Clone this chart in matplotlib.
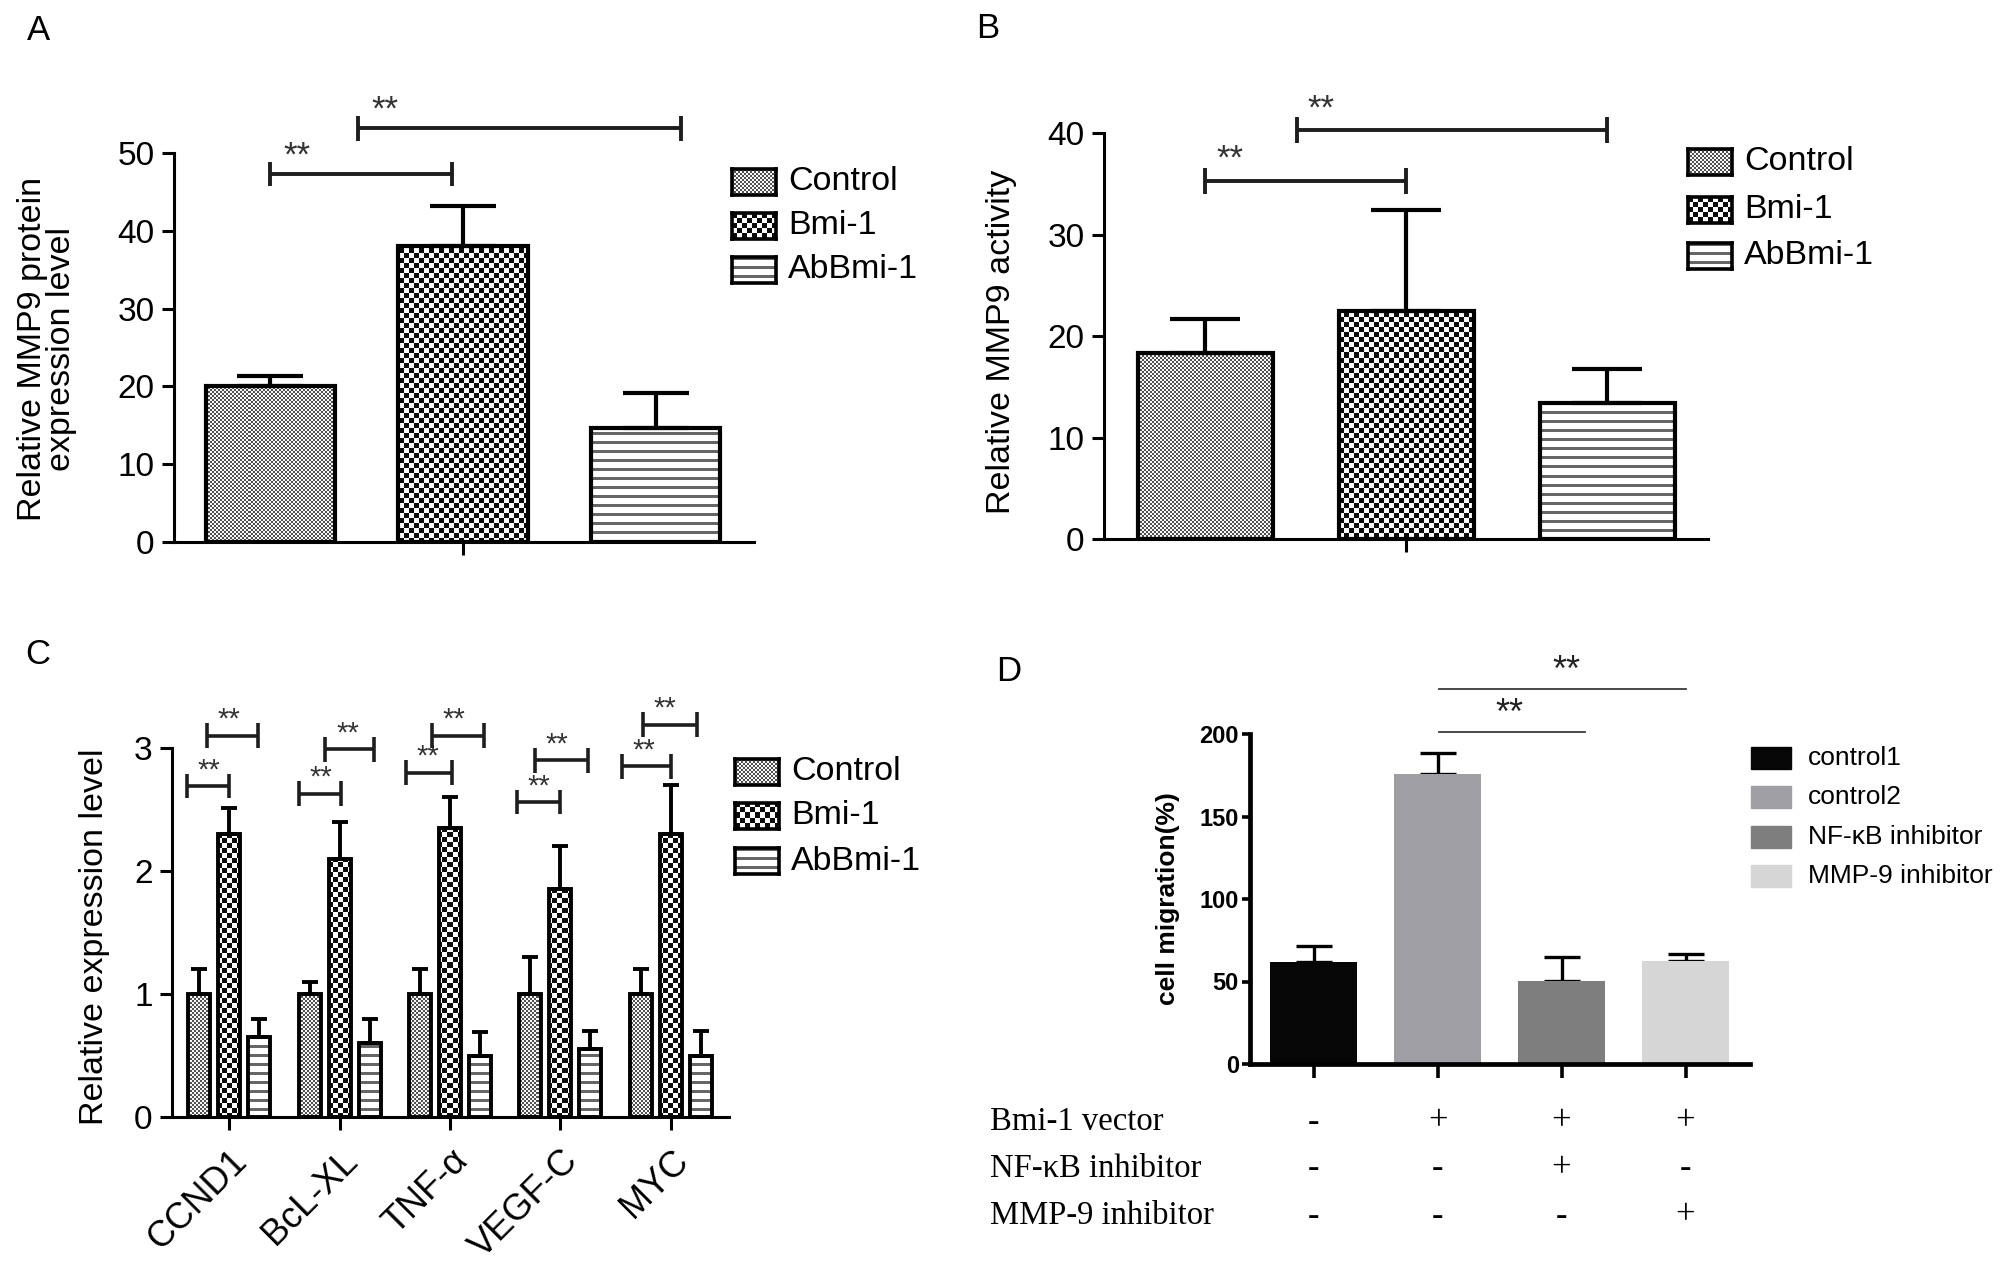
import numpy as np
import matplotlib
matplotlib.use('Agg')
import matplotlib.pyplot as plt
from matplotlib.transforms import blended_transform_factory

plt.rcParams['font.family'] = ['Liberation Sans', 'DejaVu Sans']

# ---- data ----
ab_groups = ['Control', 'Bmi-1', 'AbBmi-1']
ab_kinds = ['fine', 'coarse', 'hline']

a_means = [20.0, 38.0, 14.6]
a_errs = [1.3, 5.2, 4.6]
a_sig = [(0.0, 0.945, 47.3), (0.453, 2.133, 53.2)]

b_means = [18.3, 22.5, 13.4]
b_errs = [3.4, 9.9, 3.35]
b_sig = [(0.0, 1.0, 35.3), (0.455, 2.0, 40.3)]

c_genes = ['CCND1', 'BcL-XL', 'TNF-α', 'VEGF-C', 'MYC']
c_control = [1.0, 1.0, 1.0, 1.0, 1.0]
c_control_err = [0.2, 0.1, 0.2, 0.3, 0.2]
c_bmi = [2.30, 2.10, 2.35, 1.85, 2.30]
c_bmi_err = [0.21, 0.30, 0.25, 0.35, 0.40]
c_ab = [0.65, 0.60, 0.50, 0.55, 0.50]
c_ab_err = [0.15, 0.20, 0.19, 0.15, 0.20]
# (left, right, height) relative to group centre
c_sig1 = [(-0.387, 0.0, 2.69), (-0.366, 0.01, 2.63), (-0.40, 0.018, 2.80), (-0.394, 0.0, 2.56), (-0.441, 0.0, 2.85)]
c_sig2 = [(-0.204, 0.258, 3.10), (-0.129, 0.308, 2.99), (-0.161, 0.309, 3.10), (-0.233, 0.251, 2.90), (-0.251, 0.244, 3.19)]

d_groups = ['control1', 'control2', 'NF-κB inhibitor', 'MMP-9 inhibitor']
d_colors = ['#060606', '#9f9ea5', '#7e7e7e', '#d6d6d6']
d_means = [62.0, 175.5, 50.5, 62.5]
d_errs = [9.5, 13.0, 14.3, 4.3]
d_sig = [(1.01, 2.19, 201), (1.01, 3.0, 227)]
d_star_x = [1.58, 2.04]
d_rows = ['Bmi-1 vector', 'NF-κB inhibitor', 'MMP-9 inhibitor']
d_signs = [['-', '+', '+', '+'],
           ['-', '-', '+', '-'],
           ['-', '-', '-', '+']]

W, H = 2008, 1262
fig = plt.figure(figsize=(W / 100, H / 100), dpi=100)


def box(x0, y0, x1, y1):
    # pixel box (top-left origin) -> figure fraction rect
    return [x0 / W, 1 - y1 / H, (x1 - x0) / W, (y1 - y0) / H]


def pattern(kind, h, w):
    i, j = np.mgrid[0:h, 0:w]
    if kind == 'fine':
        dark = ((i // 2 + j // 2) % 2 == 0)
        g = np.where(dark, 0.32, 0.97)
    elif kind == 'coarse':
        dark = ((i // 5 + j // 5) % 2 == 0)
        g = np.where(dark, 0.05, 1.0)
    else:
        dark = (i % 9) < 3
        g = np.where(dark, 0.4, 1.0)
    return np.dstack([g, g, g])


def patterned_bars(ax, x, h, width, kinds, lw):
    x0, x1 = ax.get_xlim()
    y0, y1 = ax.get_ylim()
    bars = ax.bar(x, h, width, color='white', edgecolor='none', zorder=1)
    bb = ax.get_window_extent()
    pw, ph = int(round(bb.width)), int(round(bb.height))
    for bar, k in zip(bars, kinds):
        im = ax.imshow(pattern(k, ph, pw), extent=(x0, x1, y0, y1), origin='upper',
                       aspect='auto', interpolation='nearest', zorder=2)
        im.set_clip_path(bar)
    ax.bar(x, h, width, fill=False, edgecolor='black', linewidth=lw, zorder=3)
    ax.set_xlim(x0, x1)
    ax.set_ylim(y0, y1)


def style(ax, yticks, fs, lw, ticklen):
    for s in ['top', 'right']:
        ax.spines[s].set_visible(False)
    for s in ['left', 'bottom']:
        ax.spines[s].set_linewidth(lw)
    ax.set_yticks(yticks)
    ax.tick_params(axis='both', width=lw, length=ticklen, labelsize=fs, pad=5)


def bracket(ax, x1, x2, y, d, lw, sdx, sdy, fs):
    kw = dict(color='#1e1e1e', lw=lw, clip_on=False, solid_capstyle='butt', zorder=5)
    ax.plot([x1, x2], [y, y], **kw)
    ax.plot([x1, x1], [y - d, y + d], **kw)
    ax.plot([x2, x2], [y - d, y + d], **kw)
    ax.text(x1 + sdx, y + sdy, '**', ha='center', va='center', fontsize=fs, color='#333333')


def pattern_legend(x, ys, labels, kinds, fs):
    for y, lab, k in zip(ys, labels, kinds):
        lax = fig.add_axes(box(x, y - 13, x + 44, y + 13))
        lax.imshow(pattern(k, 26, 44), aspect='auto', interpolation='nearest')
        lax.set_xticks([])
        lax.set_yticks([])
        for s in lax.spines.values():
            s.set_linewidth(2.6)
        fig.text((x + 56) / W, 1 - y / H, lab, fontsize=fs, va='center', ha='left')


# ---------------- A ----------------
ax = fig.add_axes(box(174, 153, 754, 542))
ax.set_xlim(-0.5, 2.51)
ax.set_ylim(0, 50)
xa = np.arange(3)
patterned_bars(ax, xa, a_means, 0.67, ab_kinds, 3.0)
ax.errorbar(xa, a_means, yerr=[np.zeros(3), a_errs], fmt='none', ecolor='black',
            elinewidth=3, capsize=24, capthick=3, zorder=2.5)
style(ax, [0, 10, 20, 30, 40, 50], 24, 2.2, 9)
ax.set_xticks([1])
ax.set_xticklabels([''])
for x1, x2, y in a_sig:
    bracket(ax, x1, x2, y, 1.6, 2.8, 0.14, 2.3, 25)
pattern_legend(732, [182, 226, 270], ab_groups, ab_kinds, 24.5)
fig.text(47 / W, 1 - 349 / H, 'Relative MMP9 protein\nexpression level', rotation=90,
         ha='center', va='center', fontsize=24.5, linespacing=0.95, multialignment='center')
fig.text(27 / W, 1 - 40 / H, 'A', fontsize=25, va='baseline')

# ---------------- B ----------------
ax = fig.add_axes(box(1104, 133, 1708, 539))
ax.set_xlim(-0.504, 2.5)
ax.set_ylim(0, 40)
patterned_bars(ax, xa, b_means, 0.67, ab_kinds, 3.0)
ax.errorbar(xa, b_means, yerr=[np.zeros(3), b_errs], fmt='none', ecolor='black',
            elinewidth=3, capsize=25, capthick=3, zorder=2.5)
style(ax, [0, 10, 20, 30, 40], 24, 2.2, 9)
ax.set_xticks([1])
ax.set_xticklabels([''])
for x1, x2, y in b_sig:
    bracket(ax, x1, x2, y, 1.3, 2.8, 0.12, 2.1, 25)
pattern_legend(1688, [162, 210, 256], ab_groups, ab_kinds, 24.5)
fig.text(1002 / W, 1 - 342 / H, 'Relative MMP9 activity', rotation=90,
         ha='center', va='center', fontsize=24.5)
fig.text(976 / W, 1 - 38 / H, 'B', fontsize=25, va='baseline')

# ---------------- C ----------------
ax = fig.add_axes(box(172, 748, 729, 1117))
ax.set_xlim(-0.52, 4.53)
ax.set_ylim(0, 3)
xc = np.arange(len(c_genes))
off = 0.272
cx = np.concatenate([xc - off, xc, xc + off])
ch = np.concatenate([c_control, c_bmi, c_ab])
ce = np.concatenate([c_control_err, c_bmi_err, c_ab_err])
ck = ['fine'] * 5 + ['coarse'] * 5 + ['hline'] * 5
patterned_bars(ax, cx, ch, 0.2, ck, 2.8)
ax.errorbar(cx, ch, yerr=[np.zeros(len(ch)), ce], fmt='none', ecolor='black',
            elinewidth=2.8, capsize=6, capthick=2.8, zorder=2.5)
style(ax, [0, 1, 2, 3], 24, 2.2, 9)
ax.set_xticks(xc)
ax.set_xticklabels(c_genes, rotation=45, ha='right', va='top', rotation_mode='anchor', fontsize=26)
ax.tick_params(axis='x', pad=10)
for g in range(len(c_genes)):
    for l, r, y in (c_sig1[g], c_sig2[g]):
        bracket(ax, g + l, g + r, y, 0.1, 2.6, 0.2, 0.13, 21)
pattern_legend(735, [772, 816, 861], ab_groups, ab_kinds, 24.5)
fig.text(95 / W, 1 - 937 / H, 'Relative expression level', rotation=90,
         ha='center', va='center', fontsize=24.5)
fig.text(25 / W, 1 - 664 / H, 'C', fontsize=25, va='baseline')

# ---------------- D ----------------
ax = fig.add_axes(box(1250, 734, 1750, 1064))
ax.set_xlim(-0.513, 3.52)
ax.set_ylim(0, 200)
xd = np.arange(4)
ax.bar(xd, d_means, 0.70, color=d_colors, edgecolor='none', zorder=2)
ax.errorbar(xd, d_means, yerr=[np.zeros(4), d_errs], fmt='none', ecolor='black',
            elinewidth=2.4, capsize=13, capthick=2.4, zorder=1.5)
for s in ['top', 'right']:
    ax.spines[s].set_visible(False)
for s in ['left', 'bottom']:
    ax.spines[s].set_linewidth(3.4)
ax.set_yticks([0, 50, 100, 150, 200])
ax.set_xticks(xd)
ax.set_xticklabels([''] * 4)
ax.tick_params(axis='y', width=2.6, length=6, labelsize=17, pad=2)
ax.tick_params(axis='x', width=2.6, length=10)
for lab in ax.get_yticklabels():
    lab.set_fontweight('bold')
for (x1, x2, y), sx in zip(d_sig, d_star_x):
    ax.plot([x1, x2], [y, y], color='#3a3a3a', lw=1.3, clip_on=False)
    ax.text(sx, y + 11, '**', ha='center', va='center', fontsize=26, color='#222222', clip_on=False)
ax.set_ylabel('cell migration(%)', fontsize=19, fontweight='bold')
ax.yaxis.set_label_coords(-0.14, 0.5)

for k, (lab, col) in enumerate(zip(d_groups, d_colors)):
    y = [758, 797, 837, 876][k]
    fig.patches.append(plt.Rectangle((1751 / W, 1 - (y + 11) / H), 40 / W, 22 / H,
                                     color=col, transform=fig.transFigure, figure=fig))
    fig.text(1808 / W, 1 - y / H, lab, fontsize=19, va='center')

trans = blended_transform_factory(ax.transData, fig.transFigure)
for r, (row, signs) in enumerate(zip(d_rows, d_signs)):
    y = [1122, 1169, 1216][r]
    fig.text(990 / W, 1 - y / H, row, fontsize=23.5, va='center', family='Liberation Serif')
    for xi, s in zip(xd, signs):
        ax.text(xi, 1 - y / H, s, transform=trans, ha='center', va='center',
                fontsize=25, family='Liberation Serif')
fig.text(996 / W, 1 - 681 / H, 'D', fontsize=25, va='baseline')

fig.savefig('out.png', dpi=100)
